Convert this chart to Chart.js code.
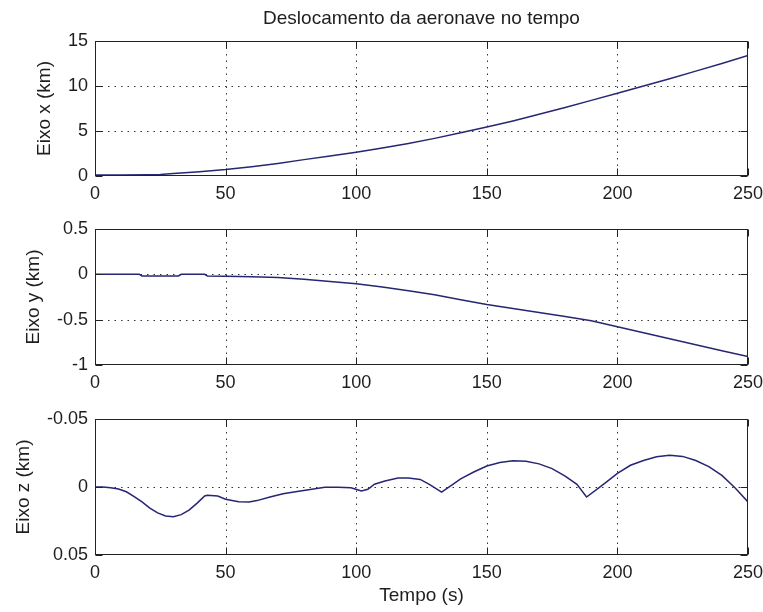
<!DOCTYPE html>
<html lang="pt">
<head>
<meta charset="utf-8">
<title>Deslocamento da aeronave no tempo</title>
<script src="https://cdn.jsdelivr.net/npm/chart.js@4.4.1/dist/chart.umd.min.js"></script>
<style>
    html, body { margin: 0; padding: 0; background: #fff; }
    #figura { position: relative; width: 763px; height: 612px; background: #fff; }
    #figura canvas { position: absolute; left: 0; }
</style>
</head>
<body>
<div id="figura">
    <canvas id="graf-x" width="763" height="206" style="top:0px;width:763px;height:206px"></canvas>
    <canvas id="graf-y" width="763" height="190" style="top:206px;width:763px;height:190px"></canvas>
    <canvas id="graf-z" width="763" height="216" style="top:396px;width:763px;height:216px"></canvas>
</div>
<script>
(function () {
    'use strict';

    // Tempo (s) - eixo horizontal comum aos tres graficos
    const ticksTempo = [0, 50, 100, 150, 200, 250];

    // Deslocamento no eixo x (km)
    const tempoX = [0, 10, 20, 25, 30, 40, 50, 60, 70, 80, 90, 100, 110, 120, 130,
        140, 150, 160, 170, 180, 190, 200, 210, 220, 230, 240, 250];
    const posX = [0.1, 0.12, 0.15, 0.18, 0.28, 0.48, 0.72, 1.03, 1.4, 1.82, 2.23, 2.65,
        3.12, 3.62, 4.18, 4.8, 5.45, 6.12, 6.85, 7.6, 8.4, 9.2, 10.0, 10.8, 11.65, 12.5, 13.4];
    const ticksX = [0, 5, 10, 15];

    // Deslocamento no eixo y (km)
    const tempoY = [0, 10, 17, 18, 32, 33, 42, 43, 50, 60, 70, 80, 90, 100, 110, 120,
        130, 140, 150, 160, 170, 180, 190, 200, 210, 220, 230, 240, 250];
    const posY = [0, 0, 0, -0.018, -0.018, 0, 0, -0.018, -0.02, -0.028, -0.035, -0.055,
        -0.078, -0.105, -0.14, -0.18, -0.226, -0.28, -0.333, -0.377, -0.422, -0.466,
        -0.513, -0.578, -0.645, -0.71, -0.776, -0.842, -0.907];
    const ticksY = [-1, -0.5, 0, 0.5];

    // Deslocamento no eixo z (km) - eixo invertido
    const tempoZ = [0, 3, 6, 9, 12, 15, 18, 21, 24, 27, 30, 33, 36, 39, 42, 43, 47,
        50, 55, 59, 62, 67, 72, 78, 83, 88, 93, 98, 100.5, 102, 104.5, 107, 111, 116,
        120, 124.5, 128, 132.7, 137, 140, 145, 150, 155, 160, 165, 170, 175, 180,
        184.5, 188.2, 193, 196, 200, 205, 210, 215, 220, 225, 230, 235, 240, 245, 250];
    const posZ = [0, 0, 0.0005, 0.0015, 0.0035, 0.007, 0.011, 0.0155, 0.019, 0.0213,
        0.0218, 0.0203, 0.017, 0.012, 0.0066, 0.006, 0.0066, 0.009, 0.0108, 0.011, 0.01,
        0.0073, 0.005, 0.0032, 0.0017, 0.0002, 0.0002, 0.0005, 0.002, 0.003, 0.0017,
        -0.002, -0.0044, -0.0066, -0.0066, -0.0056, -0.002, 0.0037, -0.002, -0.006,
        -0.011, -0.0154, -0.018, -0.0193, -0.019, -0.017, -0.0135, -0.008, -0.002,
        0.0074, 0.0005, -0.004, -0.01, -0.016, -0.0195, -0.0222, -0.0233, -0.0225,
        -0.0195, -0.015, -0.0085, 0.0005, 0.011];
    const ticksZ = [-0.05, 0, 0.05];

    const FONTE = "'Liberation Sans', Arial, Helvetica, sans-serif";
    const COR_TEXTO = '#1e1e1e';
    const COR_LINHA = '#262672';
    const COR_EIXO = '#222';
    const TICK_LEN = 7;

    // Moldura no estilo MATLAB: grade pontilhada, caixa fechada e ticks para dentro
    const molduraMatlab = {
        id: 'molduraMatlab',
        beforeDatasetsDraw(chart) {
            const { ctx, chartArea: a, scales } = chart;
            ctx.save();
            ctx.strokeStyle = '#333';
            ctx.lineWidth = 1;
            ctx.setLineDash([1.5, 5]);
            scales.x.ticks.forEach(t => {
                const px = Math.round(scales.x.getPixelForValue(t.value)) + 0.5;
                if (px <= a.left + 2 || px >= a.right - 2) return;
                ctx.beginPath();
                ctx.moveTo(px, a.top);
                ctx.lineTo(px, a.bottom);
                ctx.stroke();
            });
            scales.y.ticks.forEach(t => {
                const py = Math.round(scales.y.getPixelForValue(t.value)) + 0.5;
                if (py <= a.top + 2 || py >= a.bottom - 2) return;
                ctx.beginPath();
                ctx.moveTo(a.left, py);
                ctx.lineTo(a.right, py);
                ctx.stroke();
            });
            ctx.restore();
        },
        afterDatasetsDraw(chart) {
            const { ctx, chartArea: a, scales } = chart;
            const l = Math.round(a.left) + 0.5;
            const r = Math.round(a.right) - 0.5;
            const t = Math.round(a.top) + 0.5;
            const b = Math.round(a.bottom) - 0.5;
            ctx.save();
            ctx.strokeStyle = COR_EIXO;
            ctx.lineWidth = 1;
            ctx.setLineDash([]);
            ctx.strokeRect(l, t, r - l, b - t);
            ctx.beginPath();
            scales.x.ticks.forEach(tk => {
                const px = Math.round(scales.x.getPixelForValue(tk.value)) + 0.5;
                ctx.moveTo(px, b);
                ctx.lineTo(px, b - TICK_LEN);
                ctx.moveTo(px, t);
                ctx.lineTo(px, t + TICK_LEN);
            });
            scales.y.ticks.forEach(tk => {
                const py = Math.round(scales.y.getPixelForValue(tk.value)) + 0.5;
                ctx.moveTo(l, py);
                ctx.lineTo(l + TICK_LEN, py);
                ctx.moveTo(r, py);
                ctx.lineTo(r - TICK_LEN, py);
            });
            ctx.stroke();
            ctx.restore();
        }
    };

    function criarGrafico(cfg) {
        const canvas = document.getElementById(cfg.id);
        const pontos = cfg.tempo.map((t, i) => ({ x: t, y: cfg.valores[i] }));

        return new Chart(canvas, {
            type: 'line',
            data: {
                datasets: [{
                    data: pontos,
                    borderColor: COR_LINHA,
                    borderWidth: 1.5,
                    pointRadius: 0,
                    tension: 0,
                    fill: false
                }]
            },
            plugins: [molduraMatlab],
            options: {
                responsive: false,
                animation: false,
                devicePixelRatio: 1,
                layout: {
                    padding: { top: cfg.padTopo, right: 15, bottom: 0, left: 0 }
                },
                plugins: {
                    legend: { display: false },
                    tooltip: { enabled: false },
                    title: {
                        display: !!cfg.titulo,
                        text: cfg.titulo || '',
                        fullSize: false,
                        color: COR_TEXTO,
                        font: { family: FONTE, size: 19, weight: 'normal' },
                        padding: { top: 7, bottom: 11.2 }
                    }
                },
                scales: {
                    x: {
                        type: 'linear',
                        min: 0,
                        max: 250,
                        grid: { display: false, drawTicks: false, tickLength: 0 },
                        border: { display: false },
                        afterBuildTicks: s => { s.ticks = ticksTempo.map(v => ({ value: v })); },
                        afterFit: s => {
                            s.height = cfg.alturaX;
                            s.paddingLeft = 0;
                            s.paddingRight = 0;
                        },
                        ticks: {
                            padding: 7,
                            autoSkip: false,
                            maxRotation: 0,
                            color: COR_TEXTO,
                            font: { family: FONTE, size: 18 },
                            callback: v => String(v)
                        },
                        title: {
                            display: !!cfg.tituloX,
                            text: cfg.tituloX || '',
                            color: COR_TEXTO,
                            font: { family: FONTE, size: 19 },
                            padding: { top: 0, bottom: 4.6 }
                        }
                    },
                    y: {
                        type: 'linear',
                        min: cfg.min,
                        max: cfg.max,
                        reverse: !!cfg.invertido,
                        grid: { display: false, drawTicks: false, tickLength: 0 },
                        border: { display: false },
                        afterBuildTicks: s => { s.ticks = cfg.ticks.map(v => ({ value: v })); },
                        afterFit: s => {
                            s.width = 95;
                            s.paddingTop = 0;
                            s.paddingBottom = 0;
                        },
                        ticks: {
                            padding: 7,
                            autoSkip: false,
                            color: COR_TEXTO,
                            font: { family: FONTE, size: 18 },
                            callback: v => String(v)
                        },
                        title: {
                            display: true,
                            text: cfg.tituloY,
                            color: COR_TEXTO,
                            font: { family: FONTE, size: 19 },
                            padding: { top: cfg.padTituloY, bottom: 0 }
                        }
                    }
                }
            }
        });
    }

    criarGrafico({
        id: 'graf-x', tempo: tempoX, valores: posX, ticks: ticksX,
        min: 0, max: 15, tituloY: 'Eixo x (km)', padTituloY: 33,
        titulo: 'Deslocamento da aeronave no tempo', padTopo: 0, alturaX: 30
    });

    criarGrafico({
        id: 'graf-y', tempo: tempoY, valores: posY, ticks: ticksY,
        min: -1, max: 0.5, tituloY: 'Eixo y (km)', padTituloY: 22.6,
        padTopo: 23, alturaX: 31
    });

    criarGrafico({
        id: 'graf-z', tempo: tempoZ, valores: posZ, ticks: ticksZ,
        min: -0.05, max: 0.05, invertido: true, tituloY: 'Eixo z (km)', padTituloY: 12.6,
        tituloX: 'Tempo (s)', padTopo: 23, alturaX: 57
    });
})();
</script>
</body>
</html>
